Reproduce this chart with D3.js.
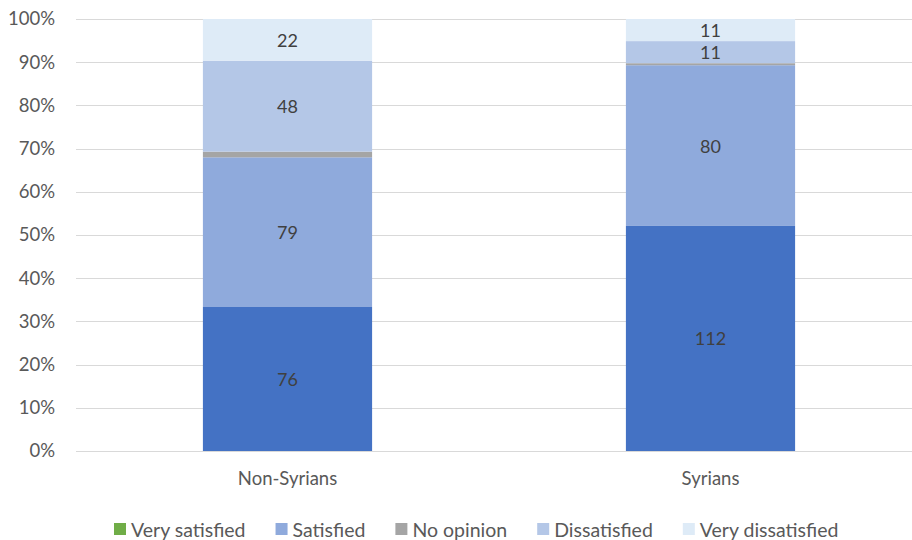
<!DOCTYPE html>
<html>
<head>
<meta charset="utf-8">
<script src="https://cdn.jsdelivr.net/npm/d3@7"></script>
<style>
  body { margin: 0; background: #fff; }
  svg text { font-family: Lato, "Open Sans", sans-serif; fill: #595959; }
</style>
</head>
<body>
<svg id="chart" width="912" height="540"></svg>
<script>
// Survey responses by nationality group
const categories = ["Non-Syrians", "Syrians"];
const seriesNames = ["Very satisfied", "Satisfied", "No opinion", "Dissatisfied", "Very dissatisfied"];
const verySatisfied    = [76, 112];
const satisfied        = [79, 80];
const noOpinion        = [3, 1];
const dissatisfied     = [48, 11];
const veryDissatisfied = [22, 11];
const yTicks = [0, 0.1, 0.2, 0.3, 0.4, 0.5, 0.6, 0.7, 0.8, 0.9, 1.0];

// bar fill per series, and legend swatch per series
const barColors    = ["#4472C4", "#8FAADC", "#A5A5A5", "#B4C7E7", "#DEEBF7"];
const legendColors = ["#70AD47", "#8FAADC", "#A5A5A5", "#B4C7E7", "#DEEBF7"];

const seriesValues = [verySatisfied, satisfied, noOpinion, dissatisfied, veryDissatisfied];
const rows = categories.map((c, i) => {
  const r = { category: c };
  seriesNames.forEach((s, k) => r[s] = seriesValues[k][i]);
  return r;
});

const stacked = d3.stack().keys(seriesNames).offset(d3.stackOffsetExpand)(rows);

const svg = d3.select("#chart");
const plotLeft = 76, plotRight = 922, plotTop = 19, plotBottom = 451;
const fontFamily = "Lato, 'Open Sans', sans-serif";

const x = d3.scaleBand().domain(categories).range([plotLeft, plotRight]).paddingInner(0.6).paddingOuter(0.3);
const y = d3.scaleLinear().domain([0, 1]).range([plotBottom, plotTop]);

// gridlines
svg.append("g").selectAll("line").data(yTicks).join("line")
  .attr("x1", plotLeft).attr("x2", 912)
  .attr("y1", d => Math.round(y(d)) + 0.5).attr("y2", d => Math.round(y(d)) + 0.5)
  .attr("stroke", "#D9D9D9").attr("stroke-width", 1);

// y axis labels
const yAxis = d3.axisLeft(y).tickValues(yTicks).tickFormat(d3.format(".0%")).tickSize(0).tickPadding(0);
const yg = svg.append("g").attr("transform", `translate(${plotLeft - 21},0)`).call(yAxis)
  .attr("font-size", null).attr("font-family", null);
yg.select(".domain").remove();
yg.selectAll("text").style("font-size", "18.5px").style("fill", "#595959")
  .style("font-family", fontFamily);

// bars
const layers = svg.append("g").selectAll("g").data(stacked).join("g")
  .attr("fill", (d, i) => barColors[i]);
layers.selectAll("rect").data(d => d).join("rect")
  .attr("x", d => x(d.data.category))
  .attr("width", x.bandwidth())
  .attr("y", d => y(d[1]))
  .attr("height", d => y(d[0]) - y(d[1]));

// value labels (the thin "No opinion" segment is left unlabelled)
stacked.forEach((layer, k) => {
  if (seriesNames[k] === "No opinion") return;
  svg.append("g").selectAll("text").data(layer).join("text")
    .attr("x", d => x(d.data.category) + x.bandwidth() / 2)
    .attr("y", d => (y(d[0]) + y(d[1])) / 2)
    .attr("text-anchor", "middle").attr("dominant-baseline", "central")
    .style("font-size", "18px").style("fill", "#404040")
    .text(d => d.data[seriesNames[k]]);
});

// x axis line and labels
svg.append("line").attr("x1", plotLeft).attr("x2", 912)
  .attr("y1", plotBottom + 0.5).attr("y2", plotBottom + 0.5)
  .attr("stroke", "#D9D9D9");
const xAxis = d3.axisBottom(x).tickSize(0).tickPadding(0);
const xg = svg.append("g").attr("transform", `translate(0,${plotBottom + 27})`).call(xAxis)
  .attr("font-size", null).attr("font-family", null);
xg.select(".domain").remove();
xg.selectAll("text").attr("dy", null).attr("dominant-baseline", "central")
  .style("font-size", "18.5px").style("fill", "#595959")
  .style("font-family", fontFamily);

// legend
const legend = svg.append("g").attr("transform", "translate(114,529)");
let lx = 0;
seriesNames.forEach((name, i) => {
  const g = legend.append("g").attr("transform", `translate(${lx},0)`);
  g.append("rect").attr("x", 0).attr("y", -6).attr("width", 12).attr("height", 12).attr("fill", legendColors[i]);
  const t = g.append("text").attr("x", 17).attr("y", 0).attr("dominant-baseline", "central")
    .style("font-size", "19.5px").text(name);
  lx += 17 + t.node().getComputedTextLength() + 30;
});
</script>
</body>
</html>
